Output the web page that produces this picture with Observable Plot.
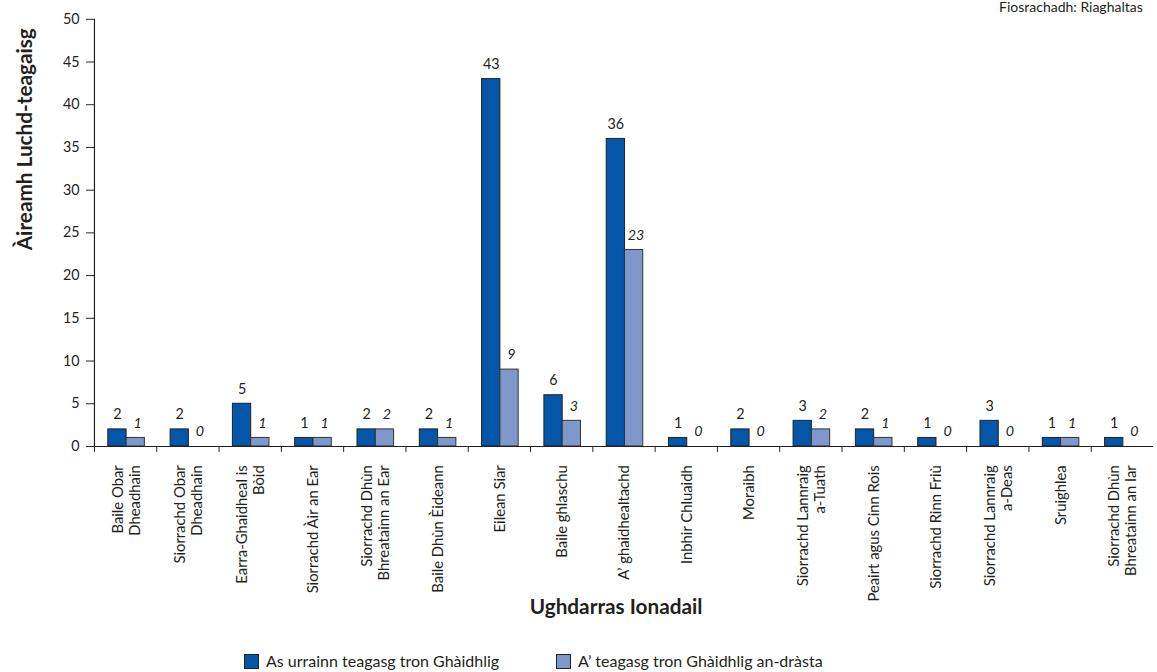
<!DOCTYPE html>
<html>
<head>
<meta charset="utf-8">
<script src="https://cdn.jsdelivr.net/npm/d3@7"></script>
<script src="https://cdn.jsdelivr.net/npm/@observablehq/plot@0.6"></script>
<style>
  html, body { margin: 0; padding: 0; background: #fff; }
  body { width: 1157px; height: 672px; overflow: hidden; position: relative; font-family: Lato, "Open Sans", sans-serif; color: #231f20; }
  #chart { position: absolute; left: 0; top: 0; z-index: 1; }
  #src { position: absolute; left: 999px; top: -2px; font-size: 14px; white-space: nowrap; color: #231f20; z-index: 2; }
  #legend { position: absolute; left: 0; top: 651px; width: 1157px; height: 20px; font-size: 16px; white-space: nowrap; z-index: 2; }
  .sw { position: absolute; top: 3px; width: 13px; height: 13px; border: 1px solid #222; }
  .lt { position: absolute; top: 0; line-height: 20px; }
</style>
</head>
<body>
<div id="src">Fiosrachadh: Riaghaltas</div>
<div id="chart"></div>
<div id="legend"></div>
<script>
// ---- data ----
const categories = [
  "Baile Obar\nDheadhain",
  "Siorrachd Obar\nDheadhain",
  "Earra-Ghaidheal is\nBòid",
  "Siorrachd Àir an Ear",
  "Siorrachd Dhùn\nBhreatainn an Ear",
  "Baile Dhùn Èideann",
  "Eilean Siar",
  "Baile ghlaschu",
  "A’ ghaidhealtachd",
  "Inbhir Chluaidh",
  "Moraibh",
  "Siorrachd Lannraig\na-Tuath",
  "Peairt agus Cinn Rois",
  "Siorrachd Rinn Friù",
  "Siorrachd Lannraig\na-Deas",
  "Sruighlea",
  "Siorrachd Dhùn\nBhreatainn an Iar"
];
const canTeach = [2, 2, 5, 1, 2, 2, 43, 6, 36, 1, 2, 3, 2, 1, 3, 1, 1];
const teachingNow = [1, 0, 1, 1, 2, 1, 9, 3, 23, 0, 0, 2, 1, 0, 0, 1, 0];
const seriesNames = ["As urrainn teagasg tron Ghàidhlig", "A’ teagasg tron Ghàidhlig an-dràsta"];
const yTicks = [0, 5, 10, 15, 20, 25, 30, 35, 40, 45, 50];
const yTitle = "Àireamh Luchd-teagaisg";
const xTitle = "Ughdarras Ionadail";

const colA = "#0457a8";
const colB = "#7e98cc";
const ink = "#231f20";

const rows = categories.map((c, i) => ({cat: c, a: canTeach[i], b: teachingNow[i]}));

const W = 1170, H = 640, mL = 95, mR = 4, mT = 19, mB = 189;
const bw = (W - mL - mR) / categories.length;
const barW = 18.5, off = 14;

const chart = Plot.plot({
  width: W, height: H,
  marginLeft: mL, marginRight: mR, marginTop: mT, marginBottom: mB,
  style: {fontFamily: "Lato, 'Open Sans', sans-serif", color: ink, background: "transparent", fontSize: "14px", overflow: "visible"},
  x: {type: "band", domain: categories, padding: 0, axis: null},
  y: {domain: [0, 50], axis: null},
  marks: [
    Plot.barY(rows, {x: "cat", y: "a", insetLeft: off, insetRight: bw - off - barW, fill: colA, stroke: "#222", strokeWidth: 1}),
    Plot.barY(rows.filter(d => d.b > 0), {x: "cat", y: "b", insetLeft: off + barW, insetRight: bw - off - 2 * barW, fill: colB, stroke: "#333", strokeWidth: 1}),
    Plot.text(rows, {x: "cat", y: "a", text: d => String(d.a), dx: off + barW / 2 - bw / 2, dy: -15, fontSize: 14.5, fill: ink}),
    Plot.text(rows, {x: "cat", y: "b", text: d => String(d.b), dx: off + 1.5 * barW - bw / 2 + 2, dy: -15, fontSize: 14.5, fontStyle: "italic", fill: ink}),
    Plot.ruleY([0], {stroke: ink, strokeWidth: 1.2}),
    Plot.ruleX([categories[0]], {dx: -bw / 2, y1: 0, y2: 50, stroke: ink, strokeWidth: 1.2}),
    Plot.axisY({ticks: yTicks, tickSize: 8, tickPadding: 7, fontSize: 14.5, stroke: ink}),
    Plot.axisX({tickSize: 6, tickFormat: () => "", label: null, dx: -bw / 2, stroke: ink}),
    Plot.text(categories, {x: d => d, frameAnchor: "bottom", text: d => d, rotate: -90, textAnchor: "end", lineAnchor: "middle", lineHeight: 1.15, dy: 19, fontSize: 15, fill: ink}),
    Plot.text([yTitle], {frameAnchor: "top-left", dx: -70, dy: 9, rotate: -90, textAnchor: "end", lineAnchor: "middle", fontWeight: "bold", fontSize: 21, fill: ink}),
    Plot.text([xTitle], {frameAnchor: "bottom", dx: -8, dy: 163, lineAnchor: "middle", fontWeight: "bold", fontSize: 21, fill: ink})
  ]
});
document.getElementById("chart").appendChild(chart);

const legend = document.getElementById("legend");
const legendX = [244, 556];
[[seriesNames[0], colA], [seriesNames[1], colB]].forEach(([name, col], i) => {
  const sw = document.createElement("span");
  sw.className = "sw";
  sw.style.left = legendX[i] + "px";
  sw.style.background = col;
  const t = document.createElement("span");
  t.className = "lt";
  t.style.left = (legendX[i] + 22) + "px";
  t.textContent = name;
  legend.appendChild(sw); legend.appendChild(t);
});
</script>
</body>
</html>
